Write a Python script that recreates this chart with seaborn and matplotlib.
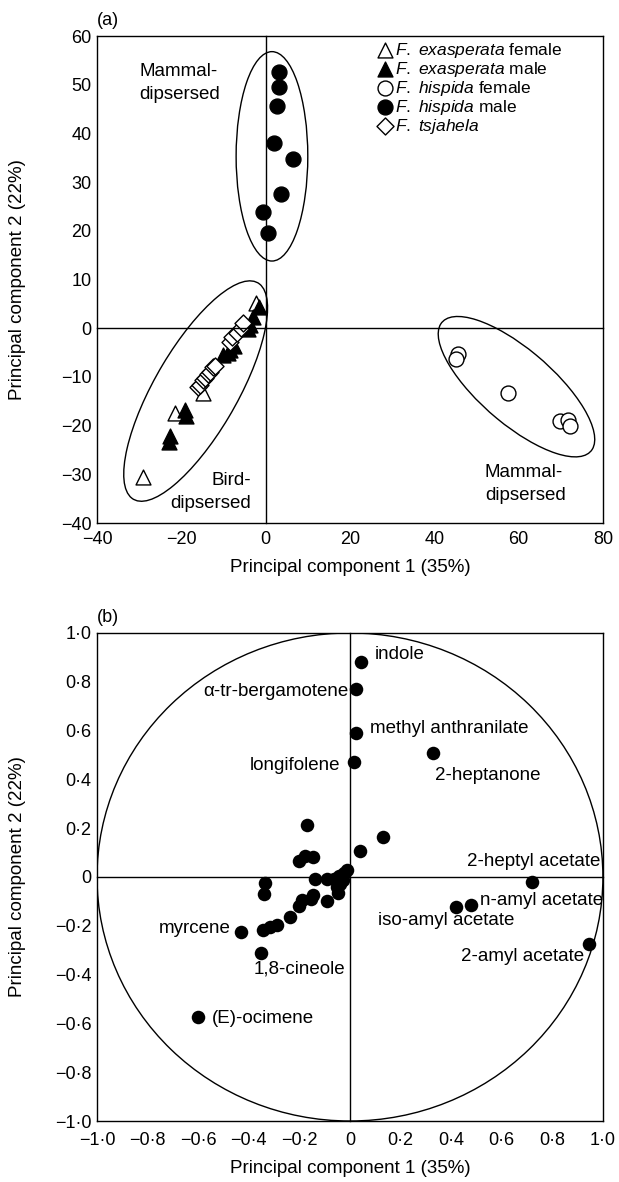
import matplotlib
matplotlib.use("Agg")
import matplotlib.pyplot as plt
import seaborn as sns
import pandas as pd
from matplotlib.patches import Ellipse, Circle

# ---- panel (a) data: PCA scores ----
exf_x = [-29.0, -21.4, -14.8, -2.4]
exf_y = [-30.5, -17.4, -13.4, 5.2]
exm_x = [-22.9, -22.8, -19.2, -18.9, -10.1, -8.9, -8.5, -7.4, -4.2, -3.6, -2.9, -1.5]
exm_y = [-23.3, -22.2, -16.8, -18.1, -5.4, -5.0, -4.4, -3.6, -0.2, 0.7, 2.3, 4.4]
tsj_x = [-16.1, -15.6, -14.9, -14.4, -13.7, -13.2, -12.5, -12.1, -8.5, -8.0, -6.9, -5.9, -5.3]
tsj_y = [-12.1, -11.6, -10.7, -10.3, -9.3, -8.9, -8.0, -7.8, -2.8, -1.8, -1.0, 0.0, 1.0]
hif_x = [45.7, 45.1, 57.4, 69.8, 71.8, 72.1]
hif_y = [-5.2, -6.3, -13.3, -19.1, -18.9, -20.1]
him_x = [3.1, 3.1, 2.6, 2.1, 6.6, 3.6, -0.7, 0.6]
him_y = [52.7, 49.5, 45.7, 38.0, 34.8, 27.6, 23.9, 19.5]

legend_labels = [r"$\it{F.}$ $\it{exasperata}$ female", r"$\it{F.}$ $\it{exasperata}$ male",
                 r"$\it{F.}$ $\it{hispida}$ female", r"$\it{F.}$ $\it{hispida}$ male",
                 r"$\it{F.}$ $\it{tsjahela}$"]

# grouping ellipses: centre x, centre y, width, height, angle
ell_cx = [1.5, -16.6, 59.5]
ell_cy = [35.3, -12.9, -12.0]
ell_w = [17.0, 53.4, 44.2]
ell_h = [43.0, 19.0, 16.0]
ell_ang = [0, 55.4, -35.6]

a_xticks = [-40, -20, 0, 20, 40, 60, 80]
a_yticks = [-40, -30, -20, -10, 0, 10, 20, 30, 40, 50, 60]

# ---- panel (b) data: loadings ----
lab_names = ["indole", "α-tr-bergamotene", "methyl anthranilate", "longifolene",
             "2-heptanone", "2-heptyl acetate", "n-amyl acetate", "iso-amyl acetate",
             "2-amyl acetate", "myrcene", "1,8-cineole", "(E)-ocimene"]
lab_x = [0.045, 0.025, 0.025, 0.015, 0.33, 0.72, 0.48, 0.42, 0.945, -0.43, -0.35, -0.60]
lab_y = [0.88, 0.77, 0.59, 0.47, 0.51, -0.02, -0.115, -0.125, -0.275, -0.225, -0.31, -0.575]
other_x = [0.13, 0.04, -0.17, -0.20, -0.178, -0.145, -0.335, -0.34, -0.14, -0.09,
           -0.065, -0.042, -0.024, -0.012, -0.147, -0.19, -0.20, -0.155, -0.09, -0.046,
           -0.039, -0.029, -0.053, -0.237, -0.29, -0.318, -0.342]
other_y = [0.165, 0.105, 0.215, 0.065, 0.085, 0.082, -0.025, -0.07, -0.01, -0.01,
           -0.007, 0.005, 0.018, 0.028, -0.074, -0.095, -0.12, -0.09, -0.10, -0.067,
           -0.027, -0.013, -0.042, -0.162, -0.195, -0.205, -0.216]
# label text anchors (x, y, horizontal alignment)
txt_x = [0.10, -0.005, 0.08, -0.04, 0.336, 0.99, 0.515, 0.11, 0.925, -0.47, -0.38, -0.545]
txt_y = [0.91, 0.76, 0.608, 0.457, 0.415, 0.065, -0.097, -0.179, -0.327, -0.213, -0.378, -0.58]
txt_ha = ["left", "right", "left", "right", "left", "right", "left", "left", "right",
          "right", "left", "left"]

b_ticks = [-1.0, -0.8, -0.6, -0.4, -0.2, 0, 0.2, 0.4, 0.6, 0.8, 1.0]


def fmt(v, dec):
    if v == 0:
        return "0"
    s = f"{abs(v):.{dec}f}".replace(".", "·")
    return ("−" + s) if v < 0 else s


sns.set_style("white")
plt.rcParams['font.family'] = ['Liberation Sans', 'DejaVu Sans']
plt.rcParams['mathtext.fontset'] = 'custom'
plt.rcParams['mathtext.rm'] = 'Liberation Sans'
plt.rcParams['mathtext.it'] = 'Liberation Sans:italic'
plt.rcParams['font.size'] = 13
for k in ['text.color', 'axes.labelcolor', 'xtick.color', 'ytick.color', 'axes.edgecolor']:
    plt.rcParams[k] = 'black'
plt.rcParams['axes.linewidth'] = 1.0

fig = plt.figure(figsize=(6.19, 11.82), dpi=100)
axA = fig.add_axes([0.1567, 0.5575, 0.8173, 0.412])
axB = fig.add_axes([0.1567, 0.0516, 0.8173, 0.4129])


def zero_axes(ax, xt, yt):
    # transparent overlay whose spines sit on the zero lines and carry the tick marks
    ov = fig.add_axes(ax.get_position(), facecolor='none')
    ov.set_xlim(ax.get_xlim())
    ov.set_ylim(ax.get_ylim())
    ov.spines['left'].set_position(('data', 0))
    ov.spines['bottom'].set_position(('data', 0))
    ov.spines['right'].set_visible(False)
    ov.spines['top'].set_visible(False)
    ov.set_xticks([t for t in xt[1:-1] if t != 0])
    ov.set_yticks([t for t in yt[1:-1] if t != 0])
    ov.tick_params(direction='inout', length=6, width=1, labelbottom=False, labelleft=False)
    ov.patch.set_visible(False)
    return ov


# ---------- panel (a) ----------
sty = dict(s=115, linewidth=1.0, edgecolor='black', ax=axA, zorder=3)
sns.scatterplot(x=exf_x, y=exf_y, marker='^', color='white', label=legend_labels[0], **sty)
sns.scatterplot(x=exm_x, y=exm_y, marker='^', color='black', label=legend_labels[1], **sty)
sns.scatterplot(x=hif_x, y=hif_y, marker='o', color='white', label=legend_labels[2], **sty)
sns.scatterplot(x=him_x, y=him_y, marker='o', color='black', label=legend_labels[3], **sty)
sns.scatterplot(x=tsj_x, y=tsj_y, marker='D', color='white', label=legend_labels[4],
                s=75, linewidth=1.0, edgecolor='black', ax=axA, zorder=3)
for cx, cy, w, h, an in zip(ell_cx, ell_cy, ell_w, ell_h, ell_ang):
    axA.add_patch(Ellipse((cx, cy), w, h, angle=an, fill=False, edgecolor='black', lw=1.0))
axA.set_xlim(-40, 80)
axA.set_ylim(-40, 60)
axA.set_xticks(a_xticks, [fmt(t, 0) for t in a_xticks])
axA.set_yticks(a_yticks, [fmt(t, 0) for t in a_yticks])
axA.tick_params(length=0, labelsize=13, pad=4)
axA.tick_params(axis='x', pad=6)
axA.set_xlabel("Principal component 1 (35%)", fontsize=13.5, labelpad=8)
axA.set_ylabel("Principal component 2 (22%)", fontsize=13.5)
axA.yaxis.set_label_coords(-0.14, 0.5)
axA.text(0, 1.015, "(a)", transform=axA.transAxes, ha='left', va='bottom', fontsize=13)
axA.text(-30, 54.5, "Mammal-\ndipsersed", ha='left', va='top', fontsize=13.5, linespacing=1.5)
axA.text(-3.5, -37.8, "Bird-\ndipsersed", ha='right', va='bottom', fontsize=13.5, linespacing=1.5)
axA.text(52, -27.8, "Mammal-\ndipsersed", ha='left', va='top', fontsize=13.5, linespacing=1.5)
axA.legend(loc='upper left', bbox_to_anchor=(0.535, 1.008), frameon=False,
           handletextpad=0.05, handlelength=1.0, labelspacing=0.0, borderpad=0,
           fontsize=12.5, markerscale=1.0)
zero_axes(axA, a_xticks, a_yticks)

# ---------- panel (b) ----------
pts = pd.DataFrame({"pc1": lab_x + other_x, "pc2": lab_y + other_y})
sns.scatterplot(data=pts, x="pc1", y="pc2", color='black', s=95, linewidth=0, ax=axB, zorder=3)
axB.add_patch(Circle((0, 0), 1.0, fill=False, edgecolor='black', lw=1.0))
for name, tx, ty, ha in zip(lab_names, txt_x, txt_y, txt_ha):
    axB.text(tx, ty, name, ha=ha, va='center', fontsize=13.5)
axB.set_xlim(-1, 1)
axB.set_ylim(-1, 1)
axB.set_xticks(b_ticks, [fmt(t, 1) for t in b_ticks])
axB.set_yticks(b_ticks, [fmt(t, 1) for t in b_ticks])
axB.tick_params(length=0, labelsize=13, pad=4)
axB.tick_params(axis='x', pad=8)
axB.set_xlabel("Principal component 1 (35%)", fontsize=13.5, labelpad=8)
axB.set_ylabel("Principal component 2 (22%)", fontsize=13.5)
axB.yaxis.set_label_coords(-0.14, 0.5)
axB.text(0, 1.015, "(b)", transform=axB.transAxes, ha='left', va='bottom', fontsize=13)
zero_axes(axB, b_ticks, b_ticks)

fig.savefig("out.png", dpi=100)
